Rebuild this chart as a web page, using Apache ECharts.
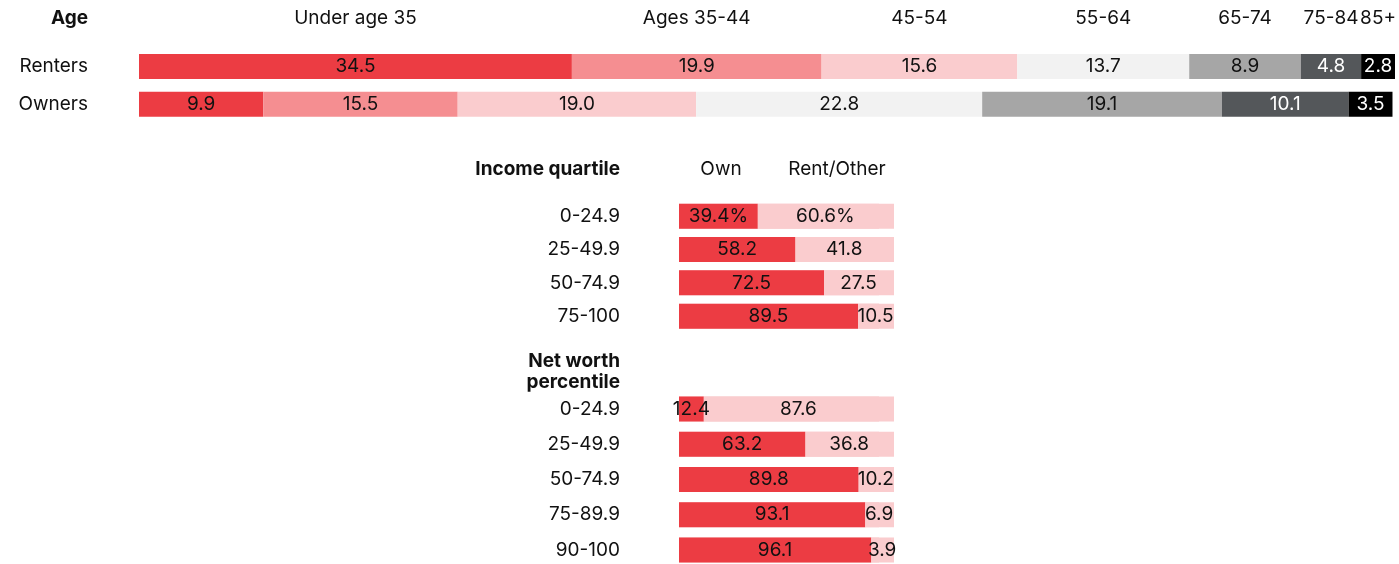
<!DOCTYPE html>
<html>
<head>
<meta charset="utf-8">
<script src="https://cdn.jsdelivr.net/npm/echarts@6/dist/echarts.min.js"></script>
<style>
  html, body { margin: 0; padding: 0; background: #fff; }
  #chart { width: 1399px; height: 564px; }
</style>
</head>
<body>
<div id="chart"></div>
<script>
// age distribution (%)
const ageGroups = ["Under age 35", "Ages 35-44", "45-54", "55-64", "65-74", "75-84", "85+"]
const tenure = ["Renters", "Owners"]
const renters = [34.5, 19.9, 15.6, 13.7, 8.9, 4.8, 2.8]
const owners = [9.9, 15.5, 19.0, 22.8, 19.1, 10.1, 3.5]

// homeownership by income quartile (%)
const incomeCats = ["0-24.9", "25-49.9", "50-74.9", "75-100"]
const incomeOwn = [39.4, 58.2, 72.5, 89.5]
const incomeRent = [60.6, 41.8, 27.5, 10.5]

// homeownership by net worth percentile (%)
const worthCats = ["0-24.9", "25-49.9", "50-74.9", "75-89.9", "90-100"]
const worthOwn = [12.4, 63.2, 89.8, 93.1, 96.1]
const worthRent = [87.6, 36.8, 10.2, 6.9, 3.9]

const FONT = "Inter"
const FS = 19
const ageColors = ["#EC3C43", "#F58E91", "#FACCCE", "#F2F2F2", "#A6A6A6", "#54575A", "#000000"]
const ageText = ["#111", "#111", "#111", "#111", "#111", "#fff", "#fff"]
const RED = "#EC3C43"
const PINK = "#FACCCE"

const chart = echarts.init(document.getElementById("chart"))

const hiddenAxis = (grid, max) => ({
  type: "value", gridIndex: grid, min: 0, max: max,
  show: false, splitLine: { show: false }
})
const catAxis = (grid, data, labelStyle, gap) => ({
  type: "category", gridIndex: grid, data: data, inverse: true,
  boundaryGap: gap !== false,
  axisLine: { show: false }, axisTick: { show: false },
  axisLabel: Object.assign({ fontFamily: FONT, fontSize: FS, color: "#111" }, labelStyle)
})

const series = []

// header row: age names centred over the renters segments
ageGroups.forEach((name, i) => {
  series.push({
    type: "bar", stack: "hdr", xAxisIndex: 0, yAxisIndex: 0,
    data: [renters[i]], barWidth: 25,
    itemStyle: { color: "transparent" },
    label: {
      show: true, position: "inside", formatter: name,
      fontFamily: FONT, fontSize: FS, color: "#111"
    },
    silent: true
  })
})

// renters / owners
ageGroups.forEach((name, i) => {
  series.push({
    name: name, type: "bar", stack: "age", xAxisIndex: 1, yAxisIndex: 1,
    data: [renters[i], owners[i]], barWidth: 25,
    itemStyle: { color: ageColors[i] },
    label: {
      show: true, position: "inside",
      formatter: (p) => p.value.toFixed(1),
      fontFamily: FONT, fontSize: FS, color: ageText[i]
    }
  })
})

// own / rent bars (100 units = 200px, the pink track fills the rest)
const ownRent = (grid, own, rent, pct) => {
  series.push({
    type: "bar", stack: "s" + grid, xAxisIndex: grid, yAxisIndex: grid,
    data: own, barWidth: 25,
    showBackground: true, backgroundStyle: { color: PINK },
    itemStyle: { color: RED },
    label: {
      show: true, position: "inside",
      formatter: (p) => p.value.toFixed(1) + (pct && p.dataIndex === 0 ? "%" : ""),
      fontFamily: FONT, fontSize: FS, color: "#111"
    }
  })
  series.push({
    type: "bar", stack: "s" + grid, xAxisIndex: grid, yAxisIndex: grid,
    data: rent, barWidth: 25,
    itemStyle: { color: PINK },
    label: {
      show: true, position: "inside", offset: [7, 0],
      formatter: (p) => p.value.toFixed(1) + (pct && p.dataIndex === 0 ? "%" : ""),
      fontFamily: FONT, fontSize: FS, color: "#111"
    }
  })
}
ownRent(2, incomeOwn, incomeRent, true)
ownRent(3, worthOwn, worthRent, false)

const headText = (text, x, y, align, bold) => ({
  type: "text", x: x, y: y, silent: true,
  style: {
    text: text, align: align, verticalAlign: "middle",
    fontFamily: FONT, fontSize: FS, lineHeight: 21,
    fontWeight: bold ? "bold" : "normal", fill: "#111"
  }
})

const option = {
  animation: false,
  graphic: [
    headText("Income quartile", 620, 169, "right", true),
    headText("Own", 721, 169, "center", false),
    headText("Rent/Other", 837, 169, "center", false),
    headText("Net worth\npercentile", 620, 372, "right", true)
  ],
  grid: [
    { left: 139, width: 1256, top: 0, height: 36 },
    { left: 139, width: 1256, top: 47.5, height: 75.5 },
    { left: 679, width: 215, top: 199.5, height: 133.3 },
    // rows sit on the grid edges here (boundaryGap off)
    { left: 679, width: 215, top: 409, height: 141 }
  ],
  xAxis: [
    hiddenAxis(0, 100.1),
    hiddenAxis(1, 100.1),
    hiddenAxis(2, 107.5),
    hiddenAxis(3, 107.5)
  ],
  yAxis: [
    catAxis(0, ["Age"], { fontWeight: "bold", margin: 51 }),
    catAxis(1, tenure, { margin: 51 }),
    catAxis(2, incomeCats, { margin: 59 }),
    catAxis(3, worthCats, { margin: 59 }, false)
  ],
  series: series
}

chart.setOption(option)
</script>
</body>
</html>
